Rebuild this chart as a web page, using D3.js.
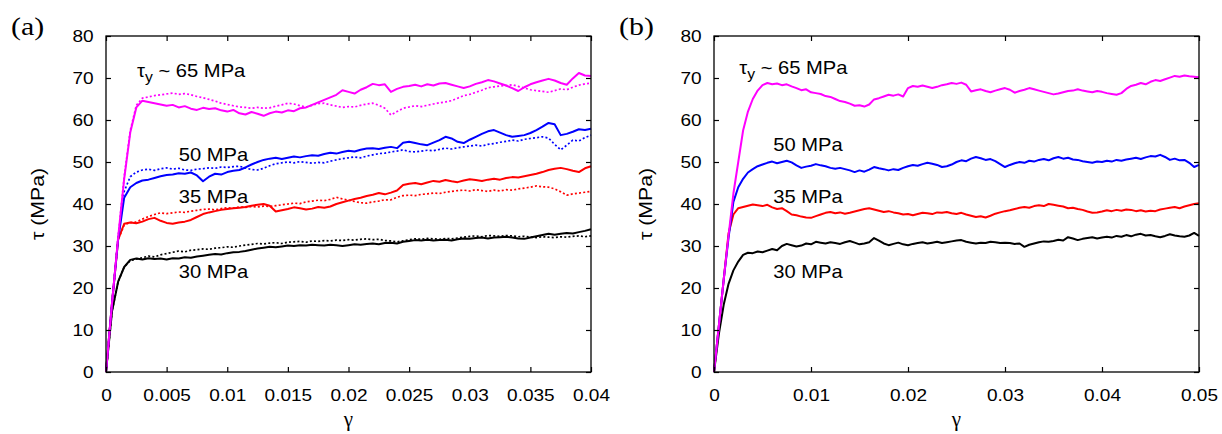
<!DOCTYPE html>
<html>
<head>
<meta charset="utf-8">
<script src="https://cdn.jsdelivr.net/npm/d3@7"></script>
<style>
body { margin: 0; background: #fff; }
svg { display: block; }
.tick text { font-family: "Liberation Sans", Arial, sans-serif; font-size: 17px; fill: #000; }
.lbl { font-family: "Liberation Sans", Arial, sans-serif; font-size: 18px; fill: #000; }
</style>
</head>
<body>
<div id="chart"></div>
<script>
// 1: DATA
// panel (a): strain sampled every 0.0005 from 0 to 0.04
const stepA = 0.0005;
const mag_a = [0,16.5,32,46,57,63,64.6,64.3,64.0,63.7,63.4,63.6,63.0,63.3,62.7,62.4,62.9,62.6,62.8,62.3,62.0,62.4,61.6,61.3,61.9,61.5,61.0,61.6,62.0,61.8,62.3,62.1,62.8,63.0,63.6,64.2,64.8,65.4,66.0,67.1,66.7,66.3,67.2,67.8,68.6,68.3,68.5,66.7,67.4,67.9,68.1,68.4,68.0,68.5,68.2,68.7,68.8,68.4,68.0,67.6,68.0,68.6,69.0,69.5,69.2,68.7,68.2,67.6,66.9,67.8,68.5,69.0,69.4,69.8,69.4,68.8,68.4,69.9,71.2,70.6,70.5];
const mag_a_dot = [0,16.5,32,46.5,57.5,63.5,65.2,65.5,65.8,66.0,66.2,66.4,66.1,66.3,66.0,65.6,65.3,64.9,64.5,64.0,63.7,63.4,63.1,63.0,62.8,63.0,62.8,62.9,63.3,63.6,64.0,63.8,63.4,63.1,63.5,63.9,64.0,63.6,63.3,63.0,63.2,63.1,63.5,63.8,64.0,63.5,62.8,61.2,62.0,62.8,63.1,63.4,63.2,63.5,63.8,64.1,64.3,64.6,65.2,65.8,66.1,66.6,67.1,67.7,67.9,68.1,68.2,68.4,68.0,67.6,67.2,67.0,66.8,66.6,67.0,67.4,67.2,67.8,68.3,68.6,68.8];
const blue_a = [0,16.5,31.5,41.5,44.0,45.0,45.6,45.8,46.2,46.6,46.9,47.0,47.3,47.2,47.5,46.8,45.4,46.5,47.2,47.0,47.6,47.9,48.1,48.7,49.4,50.0,50.5,50.8,51.0,50.7,51.0,51.3,51.1,51.4,51.6,51.5,51.9,52.2,52.0,52.4,52.7,52.5,52.9,53.2,53.3,53.1,53.4,53.6,53.3,54.6,54.8,54.5,54.2,54.0,54.6,55.2,56.0,55.6,54.8,54.5,55.3,56.0,56.7,57.3,57.6,57.0,56.4,56.0,56.2,56.4,56.9,57.6,58.4,59.3,59.0,56.4,56.7,57.2,57.8,57.6,57.9];
const blue_a_dot = [0,16.5,32,43,46.5,47.6,48.1,48.3,48.0,48.4,48.6,48.3,48.5,48.1,48.0,48.3,48.4,48.6,48.5,48.8,48.7,48.9,49.0,48.6,48.2,48.1,48.5,49.1,49.6,49.8,50.0,49.8,50.1,49.9,49.7,49.9,49.8,50.2,50.5,50.8,51.0,51.2,51.0,51.4,51.7,52.0,52.1,52.4,52.6,52.9,52.5,52.4,52.6,52.8,52.7,53.0,53.3,53.1,53.4,53.6,53.8,54.0,53.8,54.2,54.4,54.7,54.9,55.2,55.0,55.4,55.6,55.8,56.0,55.7,54.2,52.9,54.0,55.2,55.0,55.8,56.4];
const red_a = [0,16.5,31.5,35.3,35.6,35.4,35.8,36.4,36.7,36.0,35.5,35.3,35.6,35.8,36.2,36.9,37.6,38.0,38.3,38.6,38.8,39.0,39.1,39.3,39.6,39.8,40.0,39.6,38.2,38.5,38.8,39.2,39.0,38.7,38.9,39.3,39.1,39.4,40.0,40.4,40.8,41.2,41.5,41.9,42.2,42.6,42.3,42.7,43.2,44.5,44.8,45.0,44.7,45.1,45.5,45.3,45.7,45.4,45.2,45.6,45.9,45.7,45.5,45.8,46.0,45.8,46.2,46.4,46.3,46.6,46.9,47.2,47.6,48.1,48.4,48.6,48.3,47.9,47.6,48.5,49.0];
const red_a_dot = [0,16.5,31.5,35.0,35.6,35.7,36.4,37.0,37.5,37.9,37.7,37.9,38.1,38.0,38.3,38.5,38.7,38.8,38.6,38.9,39.1,39.0,39.3,39.2,39.4,39.3,39.5,39.4,39.6,39.8,40.0,40.2,40.1,40.5,40.7,40.9,40.8,41.1,41.6,41.2,40.9,40.6,40.3,40.2,40.5,40.7,41.0,41.0,41.6,42.0,42.1,42.0,42.3,42.4,42.6,42.5,42.8,43.0,43.2,43.3,43.1,43.4,43.2,43.0,43.3,43.1,43.4,43.3,43.6,43.8,44.0,44.3,44.1,44.0,43.6,42.9,42.1,42.4,42.6,42.8,43.0];
const blk_a = [0,14.5,21.5,25.0,26.7,27.0,26.8,27.1,26.9,27.0,26.8,27.1,27.0,27.3,27.2,27.5,27.7,27.9,28.1,28.0,28.3,28.5,28.6,28.8,29.1,29.4,29.6,29.8,29.7,29.9,30.1,30.0,30.2,30.1,30.3,30.2,30.1,30.3,30.2,30.0,30.2,30.4,30.3,30.5,30.6,30.4,30.7,30.8,30.6,31.0,31.2,31.4,31.3,31.5,31.3,31.4,31.5,31.3,31.6,31.8,31.7,31.9,32.0,31.8,32.0,32.1,32.2,32.0,31.8,31.7,32.0,32.3,32.6,32.9,32.7,32.9,33.1,33.0,33.3,33.6,34.0];
const blk_a_dot = [0,14.5,21.5,25.0,26.5,26.9,27.2,27.6,27.4,27.9,28.2,28.5,28.8,28.6,29.0,29.1,29.3,29.2,29.5,29.6,29.8,29.7,30.0,30.2,30.4,30.6,30.5,30.7,30.8,30.6,30.9,31.0,31.1,30.9,31.2,31.1,31.3,31.2,31.4,31.3,31.5,31.4,31.6,31.7,31.5,31.6,31.3,31.2,31.0,31.2,31.5,31.7,31.6,31.8,31.7,31.6,31.8,31.7,31.9,32.1,32.3,32.4,32.2,32.5,32.4,32.3,32.5,32.4,32.2,32.3,32.1,32.0,32.2,32.1,32.0,32.2,32.1,32.3,32.4,32.2,32.4];

// panel (b): strain sampled every 0.0005 from 0 to 0.05
const stepB = 0.0005;
const mag_b = [0,11,22,32.5,42.5,50,57.5,62,65,67,68.3,68.8,68.5,68.7,68.3,68.5,68.0,67.6,67.1,67.3,66.6,66.4,66.2,65.7,65.5,65.0,64.5,64.3,63.9,63.4,63.5,63.2,63.7,64.9,65.2,65.6,66.0,65.8,66.1,65.6,67.6,68.1,67.9,68.2,67.9,67.6,67.9,68.3,68.5,68.8,68.6,68.9,68.4,66.8,67.1,67.3,66.9,66.6,67.0,67.3,67.6,67.2,66.5,66.9,67.2,67.6,67.3,67.0,66.7,66.4,66.1,66.3,66.6,66.9,67.0,67.3,67.0,66.8,66.6,66.9,66.7,66.4,66.2,66.0,66.4,67.4,68.1,68.4,68.8,68.5,69.1,69.5,69.3,69.7,70.1,70.5,70.3,70.6,70.4,70.3,70.2];
const blue_b = [0,11,22,32,40.5,44.0,46.0,47.5,48.3,49.0,49.4,49.8,50.1,49.7,50.0,50.3,49.9,49.2,48.6,48.9,49.1,49.5,49.2,49.0,48.6,48.4,48.6,48.3,48.0,47.6,48.0,47.7,48.2,48.8,48.5,48.3,48.0,48.3,48.1,48.6,49.0,49.3,49.1,49.5,49.8,49.6,49.3,48.8,49.0,49.4,50.0,50.4,50.2,50.8,51.2,50.9,50.5,50.7,50.2,49.5,48.8,49.3,49.7,50.0,49.8,50.3,50.1,50.5,50.7,50.4,50.9,51.2,50.8,51.0,50.6,50.5,50.2,50.0,49.8,50.1,50.0,50.3,50.1,50.5,50.3,50.6,50.8,51.0,50.7,51.1,51.4,51.3,51.7,51.2,50.5,50.8,50.4,50.5,49.8,48.8,49.3];
const red_b = [0,11,22,33,37.5,39.0,39.3,39.6,39.9,39.7,39.5,39.8,39.2,38.8,39.0,38.3,37.5,37.3,37.0,36.8,36.7,37.1,37.5,37.9,38.1,37.8,38.0,37.7,37.9,38.2,38.5,38.8,39.0,38.7,38.4,38.1,38.3,38.0,37.8,37.5,37.6,37.3,37.6,37.9,37.8,37.6,38.0,37.9,38.1,37.8,37.6,37.9,37.5,37.2,36.9,37.1,36.8,37.2,37.7,38.0,38.3,38.5,38.8,39.1,39.3,39.1,39.5,39.7,39.5,40.0,39.8,39.6,39.4,39.0,39.1,38.8,38.6,38.2,37.9,38.0,38.2,38.5,38.3,38.6,38.4,38.7,38.6,38.3,38.5,38.2,38.4,38.3,38.7,38.9,39.1,39.3,39.0,39.4,39.7,40.0,40.2];
const blk_b = [0,9,16,21,24.2,26.3,27.9,28.4,28.3,28.7,28.5,28.9,29.3,29.0,30.0,30.5,30.2,29.9,30.1,30.6,30.4,31.0,30.8,30.6,30.9,30.7,30.5,30.9,31.2,30.8,30.4,30.6,30.9,31.9,31.3,30.6,30.2,30.5,30.8,30.4,30.2,30.5,30.7,30.9,30.6,30.8,31.0,30.7,30.9,31.1,31.3,31.4,31.0,30.8,30.6,30.8,30.7,31.0,30.9,30.7,30.8,30.7,30.5,30.6,29.8,30.3,30.6,30.9,31.1,31.0,31.2,31.5,31.3,32.1,31.8,31.4,31.7,31.9,32.1,31.8,32.0,32.2,32.0,32.4,32.2,32.6,32.3,32.7,32.9,32.5,32.6,32.3,32.1,32.4,32.8,32.5,32.3,32.2,32.5,33.1,32.4];

// tick values / labels
const yTicks = [0, 10, 20, 30, 40, 50, 60, 70, 80];
const xTicksA = [0, 0.005, 0.01, 0.015, 0.02, 0.025, 0.03, 0.035, 0.04];
const xLabelsA = ["0", "0.005", "0.01", "0.015", "0.02", "0.025", "0.03", "0.035", "0.04"];
const xTicksB = [0, 0.01, 0.02, 0.03, 0.04, 0.05];
const xLabelsB = ["0", "0.01", "0.02", "0.03", "0.04", "0.05"];

// 2: SVG
const W = 1222, H = 434;
const svg = d3.select("#chart").append("svg")
    .attr("width", W)
    .attr("height", H);

const SX = 1.12; // horizontal stretch of the sans text in the figure

function drawPanel(p) {
    const x = d3.scaleLinear().domain([0, p.xmax]).range([p.left, p.right]);
    const y = d3.scaleLinear().domain([0, 80]).range([372, 36]);

    const g = svg.append("g");

    // curves (dotted first, magenta last so it sits on top)
    const line = d3.line()
        .x((d, i) => x(i * p.step))
        .y(d => y(d));

    p.series.forEach(s => {
        g.append("path")
            .datum(s.values)
            .attr("d", line)
            .attr("fill", "none")
            .attr("stroke", s.color)
            .attr("stroke-width", s.dotted ? 1.7 : 2)
            .attr("stroke-dasharray", s.dotted ? "2,2.2" : null)
            .attr("stroke-linejoin", "round");
    });

    // axes with inward ticks on every side
    const bottom = g.append("g")
        .attr("transform", `translate(0,${y(0)})`)
        .call(d3.axisBottom(x).tickValues(p.xTicks)
            .tickFormat((d, i) => p.xLabels[i])
            .tickSizeInner(-5).tickSizeOuter(0).tickPadding(17));
    const left = g.append("g")
        .attr("transform", `translate(${x(0)},0)`)
        .call(d3.axisLeft(y).tickValues(yTicks)
            .tickSizeInner(-5).tickSizeOuter(0).tickPadding(11));
    const top = g.append("g")
        .attr("transform", `translate(0,${y(80)})`)
        .call(d3.axisTop(x).tickValues(p.xTicks).tickFormat("")
            .tickSizeInner(-5).tickSizeOuter(0));
    const right = g.append("g")
        .attr("transform", `translate(${x(p.xmax)},0)`)
        .call(d3.axisRight(y).tickValues(yTicks).tickFormat("")
            .tickSizeInner(-5).tickSizeOuter(0));

    [bottom, left, top, right].forEach(a => {
        a.select(".domain").remove();
        a.selectAll("line").attr("stroke", "#000").attr("stroke-width", 1.2);
    });
    bottom.selectAll("text").attr("transform", `scale(${SX},1)`);
    left.selectAll("text").attr("transform", `scale(${SX},1)`);

    // frame
    g.append("rect")
        .attr("x", x(0)).attr("y", y(80))
        .attr("width", x(p.xmax) - x(0))
        .attr("height", y(0) - y(80))
        .attr("fill", "none")
        .attr("stroke", "#000")
        .attr("stroke-width", 1.3);

    // curve labels
    p.labels.forEach(l => {
        const t = g.append("text")
            .attr("class", "lbl")
            .attr("transform", `translate(${x(l.g)},${y(l.t)}) scale(${SX},1)`);
        if (l.sub) {
            t.append("tspan").text("τ");
            t.append("tspan").attr("dy", 5).style("font-size", "14px").text("y");
            t.append("tspan").attr("dy", -5).text(" ~ 65 MPa");
        } else {
            t.text(l.text);
        }
    });

    // axis titles
    g.append("text")
        .attr("class", "lbl")
        .style("font-size", "19px")
        .attr("text-anchor", "middle")
        .attr("transform", `translate(${p.left - 62},${(y(0) + y(80)) / 2}) rotate(-90) scale(${SX},1)`)
        .text("τ (MPa)");

    g.append("text")
        .attr("x", (p.left + p.right) / 2)
        .attr("y", 426)
        .attr("text-anchor", "middle")
        .style("font-family", "'Liberation Serif', 'DejaVu Serif', serif")
        .style("font-size", "21px")
        .text("γ");

    // panel letter
    g.append("text")
        .attr("transform", `translate(${p.left - 95},35) scale(1.15,1)`)
        .style("font-family", "'Liberation Serif', 'DejaVu Serif', serif")
        .style("font-size", "26px")
        .text(p.letter);
}

drawPanel({
    left: 106, right: 591, xmax: 0.04, step: stepA, letter: "(a)",
    xTicks: xTicksA, xLabels: xLabelsA,
    series: [
        { values: blk_a_dot, color: "#000000", dotted: true },
        { values: red_a_dot, color: "#ff0000", dotted: true },
        { values: blue_a_dot, color: "#0000ff", dotted: true },
        { values: mag_a_dot, color: "#ff00ff", dotted: true },
        { values: blk_a, color: "#000000" },
        { values: red_a, color: "#ff0000" },
        { values: blue_a, color: "#0000ff" },
        { values: mag_a, color: "#ff00ff" }
    ],
    labels: [
        { sub: true, g: 0.00256, t: 70.2 },
        { text: "50 MPa", g: 0.006, t: 50.2 },
        { text: "35 MPa", g: 0.006, t: 40.2 },
        { text: "30 MPa", g: 0.006, t: 22.4 }
    ]
});

drawPanel({
    left: 714, right: 1199, xmax: 0.05, step: stepB, letter: "(b)",
    xTicks: xTicksB, xLabels: xLabelsB,
    series: [
        { values: blk_b, color: "#000000" },
        { values: red_b, color: "#ff0000" },
        { values: blue_b, color: "#0000ff" },
        { values: mag_b, color: "#ff00ff" }
    ],
    labels: [
        { sub: true, g: 0.0026, t: 70.9 },
        { text: "50 MPa", g: 0.0061, t: 52.6 },
        { text: "35 MPa", g: 0.0061, t: 40.2 },
        { text: "30 MPa", g: 0.0061, t: 22.4 }
    ]
});
</script>
</body>
</html>
